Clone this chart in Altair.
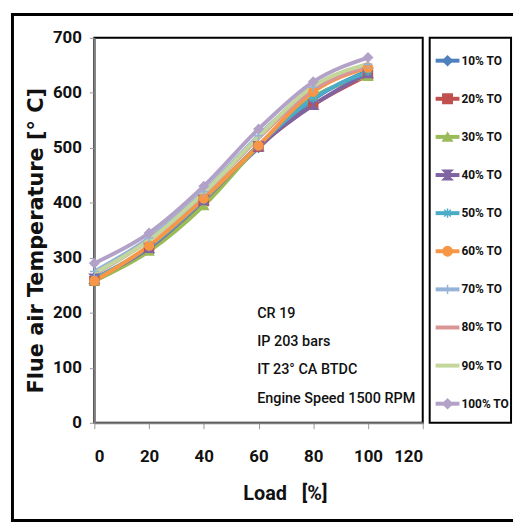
import altair as alt
import pandas as pd

loads = [0, 20, 40, 60, 80, 100]
series_names = ["10% TO", "20% TO", "30% TO", "40% TO", "50% TO",
                "60% TO", "70% TO", "80% TO", "90% TO", "100% TO"]
t10 = [262, 318, 405, 500, 588, 640]
t20 = [258, 316, 403, 502, 578, 632]
t30 = [258, 312, 395, 503, 592, 630]
t40 = [262, 318, 405, 503, 578, 636]
t50 = [262, 320, 406, 505, 590, 638]
t60 = [258, 322, 408, 504, 602, 646]
t70 = [275, 336, 420, 522, 610, 652]
t80 = [270, 332, 416, 518, 606, 648]
t90 = [272, 332, 418, 520, 612, 652]
t100 = [290, 345, 430, 534, 620, 664]
all_vals = [t10, t20, t30, t40, t50, t60, t70, t80, t90, t100]

colors = ["#4F81BD", "#C0504D", "#9BBB59", "#8064A2", "#4BACC6",
          "#F79646", "#95B3D7", "#D99694", "#C3D69B", "#B3A2C7"]
hourglass = "M-1,-1L1,-1L-1,1L1,1Z"
asterisk = "M-1,0L1,0M0,-1L0,1M-0.7,-0.7L0.7,0.7M-0.7,0.7L0.7,-0.7"
plus = "M-1,0L1,0M0,-1L0,1"
shapes = ["diamond", "square", "triangle-up", hourglass, asterisk,
          "circle", plus, "circle", "circle", "diamond"]
has_marker = [True, True, True, True, True, True, True, False, False, True]

notes = ["CR 19", "IP 203 bars", "IT 23\u00b0 CA BTDC", "Engine Speed 1500 RPM"]
note_y = [198, 146, 96, 43]

rows = []
for i, (name, vals) in enumerate(zip(series_names, all_vals)):
    for ld, v in zip(loads, vals):
        rows.append({"series": name, "idx": i, "load": ld, "temp": v,
                     "marker": has_marker[i]})
df = pd.DataFrame(rows)
leg = pd.DataFrame({"series": series_names, "idx": list(range(10)),
                    "marker": has_marker})
notes_df = pd.DataFrame({"text": notes, "y": note_y, "x": [59.5] * 4})

FONT = "Roboto, sans-serif"

color_scale = alt.Scale(domain=series_names, range=colors)
shape_scale = alt.Scale(domain=series_names, range=shapes)

xenc = alt.X("load:Q", scale=alt.Scale(domain=[0, 120], nice=False),
             axis=alt.Axis(values=[0, 20, 40, 60, 80, 100, 120], grid=False,
                           tickSize=6, labelPadding=20, labelFontSize=17,
                           labelFont=FONT, labelFontWeight="bold",
                           labelColor="#111", domainColor="#7f7f7f",
                           domainWidth=2, tickColor="#999",
                           title="Load\u00a0\u00a0\u00a0[%]", titleFont=FONT,
                           titleFontSize=20, titleFontWeight="bold",
                           titleColor="#111", titleX=192, titleY=71,
                           titleBaseline="middle", titleAlign="center"))
yenc = alt.Y("temp:Q", scale=alt.Scale(domain=[0, 700], nice=False),
             axis=alt.Axis(values=list(range(0, 701, 100)), grid=False,
                           tickSize=5, labelPadding=8, labelFontSize=17,
                           labelFont=FONT, labelFontWeight="bold",
                           labelColor="#111", domainColor="#7f7f7f",
                           domainWidth=2, tickColor="#999",
                           title="Flue air Temperature [\u00b0 C]",
                           titleFont="DejaVu Sans", titleFontSize=21,
                           titleFontWeight="bold", titleColor="#111",
                           titleAngle=270, titleX=-58, titleY=204,
                           titleAlign="center", titleBaseline="middle"))

base = alt.Chart(df)
lines = base.mark_line(interpolate="monotone", strokeWidth=4).encode(
    x=xenc, y=yenc,
    color=alt.Color("series:N", scale=color_scale, legend=None),
    order=alt.Order("load:Q"),
)
points = base.transform_filter("datum.marker").mark_point(
    filled=True, size=80, strokeWidth=1.5, opacity=1).encode(
    x="load:Q", y="temp:Q",
    color=alt.Color("series:N", scale=color_scale, legend=None),
    stroke=alt.Stroke("series:N", scale=color_scale, legend=None),
    shape=alt.Shape("series:N", scale=shape_scale, legend=None),
)
note_text = alt.Chart(notes_df).mark_text(
    align="left", baseline="middle", font=FONT, fontSize=14.5,
    fontWeight=500, color="#111").encode(x="x:Q", y="y:Q", text="text:N")

one = pd.DataFrame({"k": [0]})
frame_top = alt.Chart(one).mark_rule(color="black", strokeWidth=3).encode(
    x=alt.value(-84), x2=alt.value(422), y=alt.value(-23.5))
frame_left = alt.Chart(one).mark_rule(color="black", strokeWidth=3).encode(
    x=alt.value(-82.5), y=alt.value(-25), y2=alt.value(488))
frame_bottom = alt.Chart(one).mark_rule(color="black", strokeWidth=3).encode(
    x=alt.value(-84), x2=alt.value(422), y=alt.value(486.5))

main = alt.layer(lines, points, note_text, frame_top, frame_left,
                 frame_bottom).properties(width=331, height=388)

lyenc = alt.Y("idx:Q", scale=alt.Scale(domain=[-0.6, 9.5], reverse=True,
                                        nice=False, zero=False), axis=None)
lbase = alt.Chart(leg)
lrule = lbase.mark_rule(strokeWidth=4).encode(
    x=alt.value(6), x2=alt.value(30), y=lyenc,
    color=alt.Color("series:N", scale=color_scale, legend=None))
lpts = lbase.transform_filter("datum.marker").mark_point(
    filled=True, size=90, strokeWidth=1.5, opacity=1).encode(
    x=alt.value(18), y=lyenc,
    color=alt.Color("series:N", scale=color_scale, legend=None),
    stroke=alt.Stroke("series:N", scale=color_scale, legend=None),
    shape=alt.Shape("series:N", scale=shape_scale, legend=None))
ltext = lbase.mark_text(align="left", baseline="middle", font=FONT,
                        fontSize=12, fontWeight="bold", color="#111").encode(
    x=alt.value(32), y=lyenc, text="series:N")
legend_panel = alt.layer(lrule, lpts, ltext).properties(width=82, height=388)

chart = alt.hconcat(main, legend_panel, spacing=7, bounds="flush").properties(
    padding=0, background="white"
).configure_view(stroke="black", strokeWidth=2).configure_axis(grid=False)

chart.save("out.html", embed_options={"renderer": "svg", "actions": False})
